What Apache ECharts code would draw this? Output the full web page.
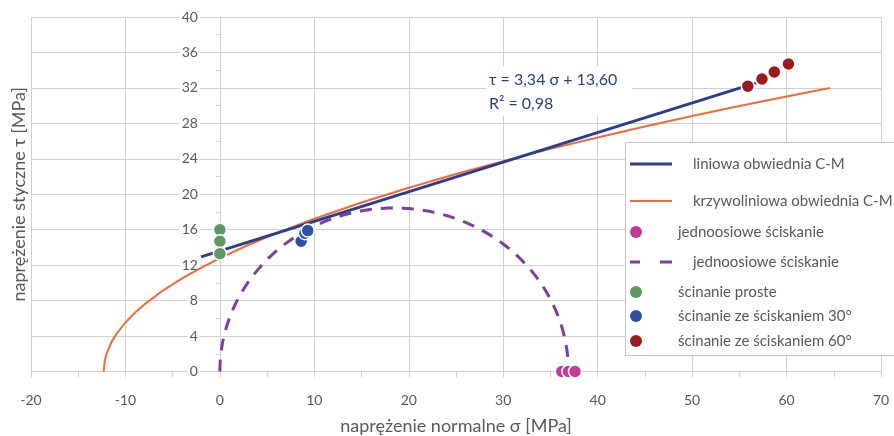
<!DOCTYPE html>
<html>
<head>
<meta charset="utf-8">
<script src="https://cdn.jsdelivr.net/npm/echarts@6/dist/echarts.min.js"></script>
<style>
html,body{margin:0;padding:0;background:#fff;}
#chart{width:894px;height:436px;}
</style>
</head>
<body>
<div id="chart"></div>
<script>
// ---- data ----
const xTicks = [-20, -10, 0, 10, 20, 30, 40, 50, 60, 70];
const yTicks = [0, 4, 8, 12, 16, 20, 24, 28, 32, 36, 40];

// linear Coulomb-Mohr envelope (trendline end points)
const linearEnvelope = [[-2.0, 12.93], [57.8, 32.9]];

// curvilinear Coulomb-Mohr envelope
const curveX = [-12.3, -12.2, -12.0, -11.5, -11, -10, -9, -8, -6, -4, -2, 0, 3, 6, 10, 15, 20, 25, 30, 35, 40, 45, 50, 55, 60, 64.6];
const curveY = [0, 1.15, 2.0, 3.26, 4.16, 5.53, 6.63, 7.57, 9.16, 10.5, 11.7, 12.8, 14.27, 15.61, 17.24, 19.07, 20.74, 22.28, 23.74, 25.12, 26.4, 27.64, 28.82, 29.95, 31.04, 32.0];

// uniaxial compression: points on sigma axis and Mohr circle (sigma3, sigma1)
const uniaxialX = [36.2, 36.9, 37.6];
const uniaxialY = [0, 0, 0];
const mohrCircle = [[0, 36.9]];

// direct shear
const shearX = [0, 0, 0];
const shearY = [16.0, 14.7, 13.3];

// shear with compression 30°
const shear30X = [8.6, 9.0, 9.3];
const shear30Y = [14.7, 15.6, 15.9];

// shear with compression 60°
const shear60X = [55.9, 57.4, 58.7, 60.2];
const shear60Y = [32.2, 33.0, 33.8, 34.7];

const names = [
  'liniowa obwiednia C-M',
  'krzywoliniowa obwiednia C-M',
  'jednoosiowe ściskanie',
  'jednoosiowe ściskanie',
  'ścinanie proste',
  'ścinanie ze ściskaniem 30°',
  'ścinanie ze ściskaniem 60°'
];
const eqText1 = 'τ = 3,34 σ + 13,60';
const eqText2 = 'R² = 0,98';

// ---- styling ----
const C = {
  blue: '#2b3d8f', orange: '#f36a36', magenta: '#c33a98', purple: '#7d3f9b',
  green: '#5e9862', blue30: '#2f4fa4', red: '#9a1b1e', text: '#595959', grid: '#d0d0d0'
};
const FONT = 'Lato, "Open Sans", sans-serif';
const zip = (xs, ys) => xs.map((x, i) => [x, ys[i]]);

const GRID = {left: 31, right: 13, top: 17, bottom: 64.5};
const plotWidth = 894 - GRID.left - GRID.right;
// y axis drawn where sigma = 0 (as in the reference)
const yAxisOffset = -plotWidth * (0 - xTicks[0]) / (xTicks[xTicks.length - 1] - xTicks[0]);

const chart = echarts.init(document.getElementById('chart'), null, {renderer: 'canvas'});

const scatterBase = {
  type: 'scatter', symbol: 'circle', symbolSize: 13, z: 5,
  itemStyle: {borderColor: '#ffffff', borderWidth: 1.5, opacity: 1}
};

const legendItems = [
  {name: names[0], icon: 'path://M0,0H42V3H0Z', color: C.blue, center: 164},
  {name: names[1], icon: 'path://M0,0H42V2H0Z', color: C.orange, center: 201},
  {name: names[2], icon: 'circle', color: C.magenta, center: 232},
  {name: names[3], icon: 'path://M0,0H10V3H0Z M30,0H42V3H30Z', color: C.purple, center: 262},
  {name: names[4], icon: 'circle', color: C.green, center: 292},
  {name: names[5], icon: 'circle', color: C.blue30, center: 316},
  {name: names[6], icon: 'circle', color: C.red, center: 341}
];

const legends = legendItems.map(it => ({
  show: true, left: 630, top: it.center - 8, padding: 0, z: 20,
  itemWidth: 42, itemHeight: 12, selectedMode: false,
  symbolKeepAspect: true,
  itemStyle: {borderWidth: 0},
  textStyle: {color: C.text, fontSize: 15, fontFamily: FONT, lineHeight: 16, padding: [0, 0, 0, 16]},
  data: [{name: it.name, icon: it.icon, itemStyle: {color: it.color, borderWidth: 0}}]
}));

const option = {
  backgroundColor: '#ffffff',
  animation: false,
  grid: Object.assign({containLabel: false, outerBoundsMode: 'none'}, GRID),
  legend: legends,
  xAxis: {
    type: 'value', min: xTicks[0], max: xTicks[xTicks.length - 1], interval: 10,
    name: 'naprężenie normalne σ [MPa]', nameLocation: 'middle', nameGap: 46,
    nameTextStyle: {color: C.text, fontSize: 18, fontFamily: FONT},
    axisLine: {show: true, onZero: false, lineStyle: {color: C.grid, width: 1}},
    axisTick: {show: true, inside: false, length: 6, lineStyle: {color: C.grid}},
    minorTick: {show: true, splitNumber: 2, length: 6, lineStyle: {color: C.grid}},
    axisLabel: {color: C.text, fontSize: 14, fontFamily: FONT, margin: 22},
    splitLine: {show: true, lineStyle: {color: C.grid, width: 1}}
  },
  yAxis: {
    type: 'value', min: yTicks[0], max: yTicks[yTicks.length - 1], interval: 4,
    position: 'left', offset: yAxisOffset,
    name: 'naprężenie styczne τ [MPa]', nameLocation: 'middle', nameGap: 192,
    nameTextStyle: {color: C.text, fontSize: 18, fontFamily: FONT},
    axisLine: {show: true, onZero: false, lineStyle: {color: C.grid, width: 1}},
    axisTick: {show: true, inside: false, length: 6, lineStyle: {color: C.grid}},
    minorTick: {show: true, splitNumber: 2, length: 4, lineStyle: {color: C.grid}},
    axisLabel: {color: C.text, fontSize: 14, fontFamily: FONT, margin: 20,
      backgroundColor: '#ffffff', padding: [0, 2, 0, 2]},
    splitLine: {show: true, lineStyle: {color: C.grid, width: 1}}
  },
  series: [
    {
      name: names[0], type: 'line', data: linearEnvelope, symbol: 'none', z: 4,
      itemStyle: {color: C.blue}, lineStyle: {color: C.blue, width: 3}
    },
    {
      name: names[1], type: 'line', data: zip(curveX, curveY), symbol: 'none', z: 3,
      smooth: false,
      itemStyle: {color: C.orange}, lineStyle: {color: C.orange, width: 2}
    },
    Object.assign({}, scatterBase, {
      name: names[2], data: zip(uniaxialX, uniaxialY),
      itemStyle: Object.assign({}, scatterBase.itemStyle, {color: C.magenta})
    }),
    {
      name: names[3], type: 'custom', data: mohrCircle, z: 3,
      itemStyle: {color: C.purple},
      encode: {x: [0, 1]},
      renderItem: function (params, api) {
        const a = api.value(0), b = api.value(1);
        const cx = (a + b) / 2, r = (b - a) / 2;
        const c = api.coord([cx, 0]);
        const e = api.coord([b, 0]);
        const t = api.coord([cx, r]);
        const rx = e[0] - c[0], ry = c[1] - t[1];
        const pts = [];
        const N = 180;
        for (let k = 0; k <= N; k++) {
          const ang = Math.PI * k / N;
          pts.push([c[0] - rx * Math.cos(ang), c[1] - ry * Math.sin(ang)]);
        }
        return {
          type: 'polyline', shape: {points: pts},
          style: {stroke: C.purple, lineWidth: 3, fill: null, lineDash: [12, 9]}
        };
      }
    },
    Object.assign({}, scatterBase, {
      name: names[4], data: zip(shearX, shearY),
      itemStyle: Object.assign({}, scatterBase.itemStyle, {color: C.green})
    }),
    Object.assign({}, scatterBase, {
      name: names[5], data: zip(shear30X, shear30Y),
      itemStyle: Object.assign({}, scatterBase.itemStyle, {color: C.blue30})
    }),
    Object.assign({}, scatterBase, {
      name: names[6], data: zip(shear60X, shear60Y),
      itemStyle: Object.assign({}, scatterBase.itemStyle, {color: C.red})
    })
  ],
  graphic: [
    {
      type: 'rect', left: 625, top: 142, z: 10,
      shape: {width: 300, height: 213},
      style: {fill: '#ffffff', stroke: '#c4c4c4', lineWidth: 1}
    },
    {
      type: 'rect', left: 486, top: 66, z: 10,
      shape: {width: 146, height: 50},
      style: {fill: '#ffffff', stroke: null}
    },
    {
      type: 'text', left: 489, top: 72, z: 11,
      style: {text: eqText1, fill: C.blue, fontSize: 16, fontFamily: FONT}
    },
    {
      type: 'text', left: 489, top: 96, z: 11,
      style: {text: eqText2, fill: C.blue, fontSize: 16, fontFamily: FONT}
    }
  ]
};

chart.setOption(option);
</script>
</body>
</html>
